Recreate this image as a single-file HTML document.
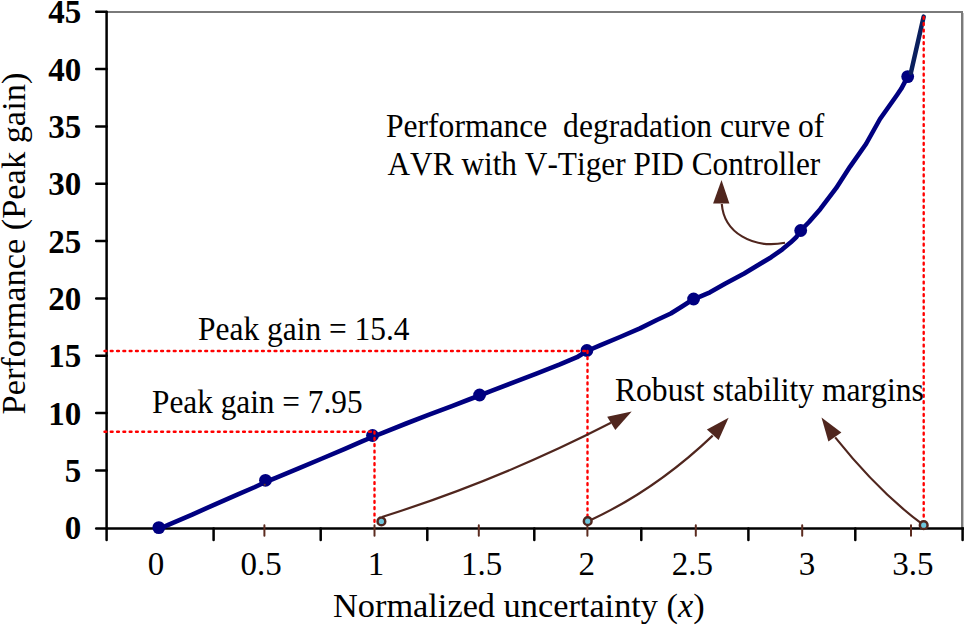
<!DOCTYPE html>
<html><head><meta charset="utf-8"><style>
html,body{margin:0;padding:0;background:#fff;}
svg{display:block;}
text{font-family:"Liberation Serif",serif;white-space:pre;font-kerning:none;}
.yl{font-weight:bold;font-size:33px;text-anchor:end;}
.xl{font-size:33px;text-anchor:middle;}
.an{font-size:31.6px;}
</style></head><body>
<svg width="964" height="625" viewBox="0 0 964 625">
<rect width="964" height="625" fill="#fff"/>
<!-- frame -->
<path d="M107 12H962V528" fill="none" stroke="#7a7a7a" stroke-width="2"/>
<path d="M963.5 13V528" stroke="#c4c4c4" stroke-width="1"/>
<!-- y axis -->
<g stroke="#000" stroke-width="2.5" stroke-linecap="round" fill="none">
<path d="M106.6 12V540"/>
<path d="M96.2 11.8H106.6M96.2 69.1H106.6M96.2 126.5H106.6M96.2 183.8H106.6M96.2 241.1H106.6M96.2 298.5H106.6M96.2 355.8H106.6M96.2 413.1H106.6M96.2 470.5H106.6"/>
<path d="M96.2 528.5H964"/>
<path d="M213.6 528.5V540M320.7 528.5V540M427.3 528.5V540M534.3 528.5V540M641.3 528.5V540M748.4 528.5V540M855.3 528.5V540M962.6 528.5V540"/>
</g>
<!-- brown ticks -->
<g stroke="#5c2c20" stroke-width="2" stroke-linecap="round">
<path d="M264.4 525.2V535.8M374.5 525.2V535.8M478.8 525.2V535.8M587.4 525.2V535.8M695.8 525.2V535.8M802.2 525.2V535.8M911 525.2V535.8"/>
</g>
<!-- y labels -->
<g class="yl">
<text transform="translate(81.3 23.4)">45</text>
<text transform="translate(81.3 80.7)">40</text>
<text transform="translate(81.3 138.1)">35</text>
<text transform="translate(81.3 195.4)">30</text>
<text transform="translate(81.3 252.7)">25</text>
<text transform="translate(81.3 310.1)">20</text>
<text transform="translate(81.3 367.4)">15</text>
<text transform="translate(81.3 424.7)">10</text>
<text transform="translate(81.3 482.1)">5</text>
<text transform="translate(81.3 539.4)">0</text>
</g>
<!-- x labels -->
<g class="xl">
<text x="156" y="574.8">0</text>
<text x="261" y="574.8">0.5</text>
<text x="376" y="574.8">1</text>
<text x="481.5" y="574.8">1.5</text>
<text x="586.7" y="574.8">2</text>
<text x="692.3" y="574.8">2.5</text>
<text x="807" y="574.8">3</text>
<text x="912.9" y="574.8">3.5</text>
</g>
<!-- axis titles -->
<text x="333" y="616.9" font-size="34.35">Normalized uncertainty (<tspan font-style="italic">x</tspan>)</text>
<text transform="translate(25.1 414.5) rotate(-90)" font-size="34.4">Performance (Peak gain)</text>
<!-- curve -->
<polyline fill="none" stroke="#000080" stroke-width="4.6" stroke-linejoin="round" stroke-linecap="round" points="159,529 169.4,524.3 192.2,514.6 215.1,504.3 237.9,494.4 255,487 265.6,482 276.4,477.6 299.2,468.2 322.1,458.5 344.9,448.8 362,441.4 372.5,437 383.4,432.6 406.2,423.5 429.1,414.7 451.9,406.1 469,399.5 479.6,395.5 491.4,390.9 514.2,382.1 537.1,373.3 559.9,364.4 577,357.2 586.9,351 600,345.3 620,337 640,328.4 656.8,320 670.8,313.5 682,306.5 693.6,299 700,296.6 710,292.3 725,283.8 744.2,273.5 771.2,257.2 782.4,249.3 790.8,242.3 796.4,237 800.7,230.5 809,222 820.2,209.2 836.1,188.2 850.1,166.6 866,144 880,119 897,95 901.2,88.8 907.7,76.6"/>
<g fill="#000080">
<circle cx="158.8" cy="527.6" r="6.4"/>
<circle cx="265.5" cy="480.3" r="6.4"/>
<circle cx="372.5" cy="435.5" r="6.4"/>
<circle cx="479.6" cy="395" r="6.4"/>
<circle cx="586.9" cy="350.5" r="6.4"/>
<circle cx="693.6" cy="299" r="6.4"/>
<circle cx="800.7" cy="230.5" r="6.4"/>
<circle cx="907.7" cy="76.6" r="6.4"/>
</g>
<path d="M910.9 72.7L923.7 16.6" stroke="#0a1f5e" stroke-width="4.5" stroke-linecap="round"/>
<!-- red dotted -->
<g stroke="#ff0000" stroke-width="2.4" stroke-linecap="round" stroke-dasharray="1.8 4.5" fill="none">
<path d="M104.5 431.7H374.5"/>
<path d="M374.5 431.7V525"/>
<path d="M104.5 351H587.5"/>
<path d="M587.5 351V517"/>
<path d="M923.7 17V521"/>
</g>
<!-- annotations -->
<text class="an" transform="translate(386 137.1) scale(1 1.05)">Performance  degradation curve of</text>
<text class="an" style="font-size:31.3px" transform="translate(387.5 175) scale(1 1.05)">AVR with V-Tiger PID Controller</text>
<text class="an" style="font-size:31.45px" transform="translate(198 340.3) scale(1 1.05)">Peak gain = 15.4</text>
<text class="an" style="font-size:31.3px" transform="translate(152 412.9) scale(1 1.05)">Peak gain = 7.95</text>
<text class="an" transform="translate(615 400.6) scale(1 1.05)">Robust stability margins</text>
<!-- arrows -->
<g stroke="#50261e" stroke-width="2.15" fill="none">
<path d="M382 517Q499.8 479.9 611 422.8"/>
<path d="M587.7 521.4Q654.5 491 712.7 435.6"/>
<path d="M923.7 525.2Q879.8 493.2 835.2 437.4"/>
<path d="M785 242.8C752.5 248.9 724 232.7 721.8 204"/>
</g>
<g fill="#50261e">
<rect x="263.8" y="483.8" width="1.8" height="1.8" fill="#6b3a28"/>
<path d="M631.7 411.4L607.2 416.7L615.3 429.9Z"/>
<path d="M728.6 417.7L706.9 429.5L718.6 440Z"/>
<path d="M821.5 417.5L828.4 441.5L841.4 432.6Z"/>
<path d="M721.5 180L713.1 203.6L729.4 203.6Z"/>
</g>
<g fill="#6ec6dc" stroke="#50261e" stroke-width="2.5">
<circle cx="381.4" cy="521.4" r="3.85"/>
<circle cx="587.7" cy="521.2" r="3.85"/>
<circle cx="923.7" cy="525.2" r="3.85"/>
</g>
</svg>
</body></html>
